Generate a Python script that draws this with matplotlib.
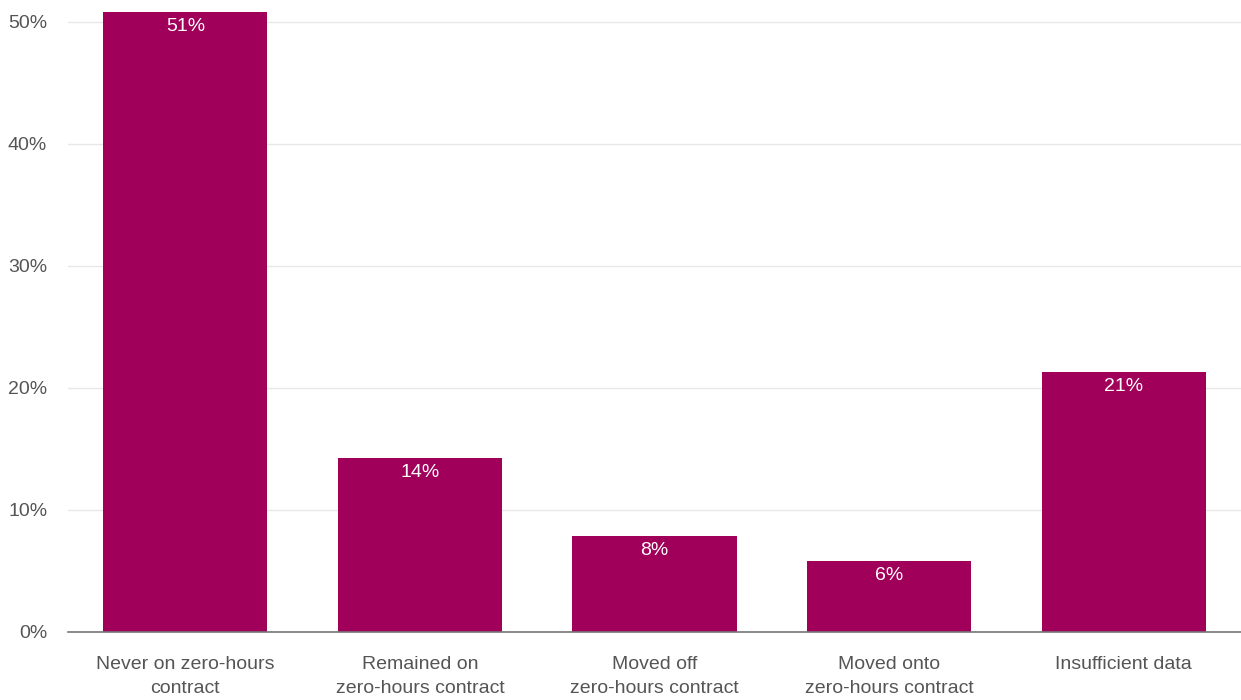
import matplotlib
matplotlib.use("Agg")
import matplotlib.pyplot as plt
from matplotlib.ticker import FuncFormatter

categories = [
    "Never on zero-hours\ncontract",
    "Remained on\nzero-hours contract",
    "Moved off\nzero-hours contract",
    "Moved onto\nzero-hours contract",
    "Insufficient data",
]
shares = [50.8, 14.3, 7.9, 5.8, 21.3]
yticks = [0, 10, 20, 30, 40, 50]

bar_color = "#a0005a"
text_gray = "#555555"

plt.rcParams["font.family"] = ["Liberation Sans", "DejaVu Sans"]

fig = plt.figure(figsize=(12.41, 7.0), dpi=100)
ax = fig.add_axes([68 / 1241, 68 / 700, 1 - 68 / 1241, 632 / 700])

x = range(len(categories))
bars = ax.bar(x, shares, width=0.7, color=bar_color, zorder=3)

for rect, v in zip(bars, shares):
    ax.annotate(f"{v:.0f}%", (rect.get_x() + rect.get_width() / 2, rect.get_height()),
                xytext=(0, -10.5), textcoords="offset points", ha="center", va="center",
                color="white", fontsize=14, zorder=4)

ax.set_xlim(-0.5, len(categories) - 0.5)
ax.set_ylim(0, 51.8)
ax.set_yticks(yticks)
ax.yaxis.set_major_formatter(FuncFormatter(lambda v, _: f"{v:.0f}%"))
ax.set_xticks(list(x))
ax.set_xticklabels(categories, fontsize=14, color=text_gray, linespacing=1.5)
ax.tick_params(axis="y", length=0, labelsize=14, labelcolor=text_gray, pad=15)
ax.tick_params(axis="x", length=0, pad=17.5)
ax.grid(axis="y", color="#e8e8e8", linewidth=1, zorder=0)

for side in ["top", "right", "left"]:
    ax.spines[side].set_visible(False)
ax.spines["bottom"].set_color("#777777")
ax.spines["bottom"].set_linewidth(1.2)
ax.spines["bottom"].set_zorder(5)

fig.savefig("out.png", dpi=100)
